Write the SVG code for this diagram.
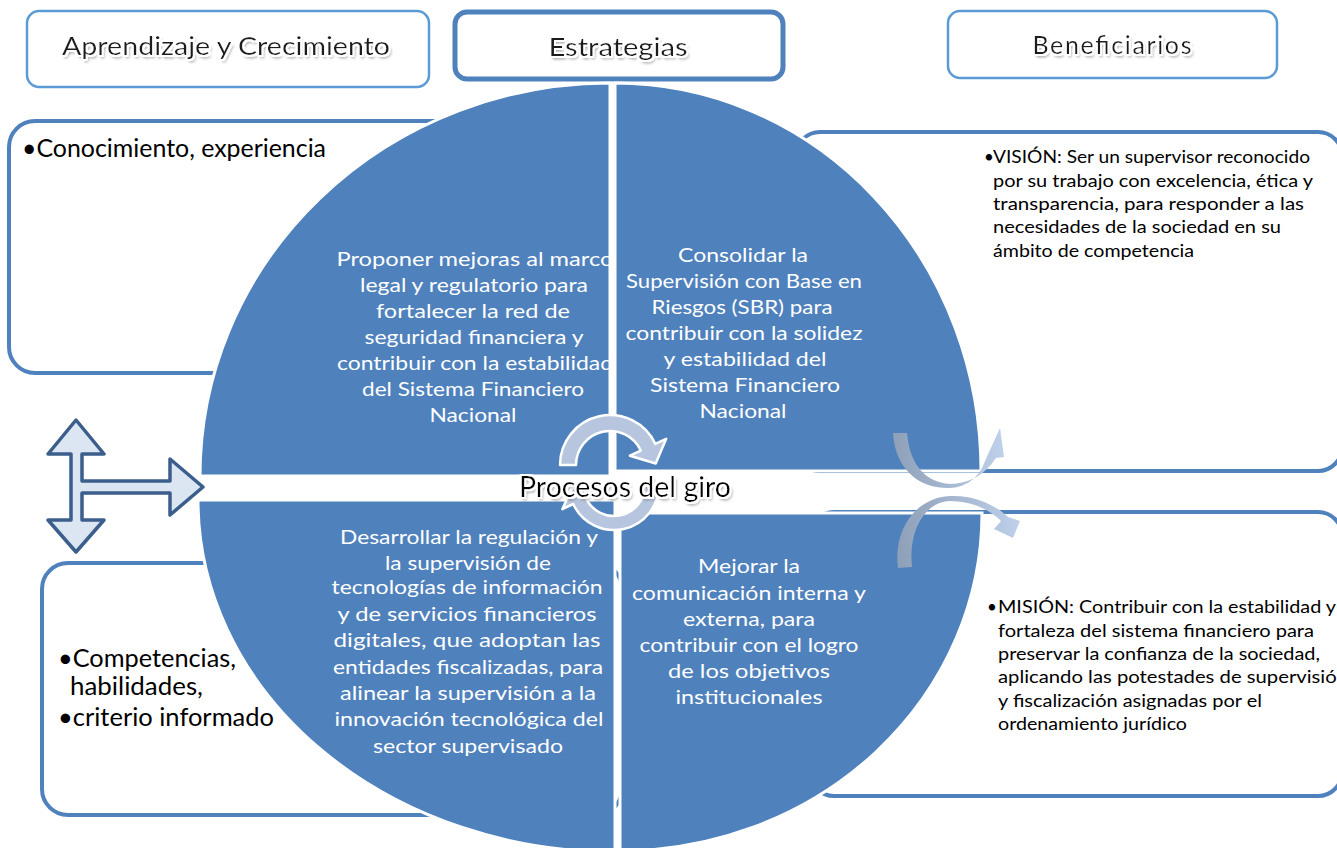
<svg xmlns="http://www.w3.org/2000/svg" width="1337" height="848" viewBox="0 0 1337 848">
<style>
.hdr{fill:#fff;stroke:#5b9bd5;stroke-width:2.5}
.hdr2{fill:#fff;stroke:#4f81bd;stroke-width:5}
.box{fill:#fff;stroke:#4f81bd;stroke-width:4}
.quad{fill:#4f81bd;stroke:#fff;stroke-width:3}
.ht{font-family:Lato,"Open Sans",sans-serif;font-size:25px;fill:#1a1a1a;text-anchor:middle}
.qt{font-family:Lato,"Open Sans",sans-serif;font-size:19px;fill:#fff;text-anchor:middle}
.lt{font-family:Lato,"Open Sans",sans-serif;font-size:25px;fill:#000}
.rt{font-family:Lato,"Open Sans",sans-serif;font-size:17px;fill:#000}
.pt{font-family:Lato,"Open Sans",sans-serif;font-size:28px;fill:#000;text-anchor:middle}
.cyc{fill:#b7c6de;stroke:#fff;stroke-width:2.5;stroke-linejoin:round}
</style>
<defs>
<filter id="shadow" x="-10%" y="-40%" width="125%" height="180%">
<feGaussianBlur in="SourceAlpha" stdDeviation="1.4" result="b"/>
<feOffset in="b" dx="2" dy="2.5" result="o"/>
<feFlood flood-color="#6f6f6f" flood-opacity="0.85"/>
<feComposite in2="o" operator="in" result="sh"/>
<feMorphology in="SourceAlpha" operator="dilate" radius="1.6" result="d"/>
<feFlood flood-color="#fff"/>
<feComposite in2="d" operator="in" result="w"/>
<feMerge><feMergeNode in="sh"/><feMergeNode in="w"/><feMergeNode in="SourceGraphic"/></feMerge>
</filter>
<linearGradient id="rib" x1="0" y1="0" x2="1" y2="0">
<stop offset="0" stop-color="#8da0b8"/>
<stop offset="1" stop-color="#bfd1ea"/>
</linearGradient>
</defs>
<rect width="1337" height="848" fill="#fff"/>

<g id="hdr-aprendizaje">
<rect class="hdr" x="27" y="11" width="402" height="76" rx="12"/>
<text class="ht" x="226" y="55" textLength="328" lengthAdjust="spacingAndGlyphs" filter="url(#shadow)">Aprendizaje y Crecimiento</text>
</g>
<g id="hdr-estrategias">
<rect class="hdr2" x="455" y="12" width="328" height="67" rx="12"/>
<text class="ht" x="618" y="56" textLength="139" lengthAdjust="spacingAndGlyphs" filter="url(#shadow)">Estrategias</text>
</g>
<g id="hdr-beneficiarios">
<rect class="hdr" x="948" y="11" width="329" height="67" rx="12"/>
<text class="ht" x="1112" y="54" textLength="159" lengthAdjust="spacing" filter="url(#shadow)">Beneficiarios</text>
</g>

<g id="box-conocimiento">
<rect class="box" x="9" y="121" width="600" height="252" rx="26"/>
<text class="lt" x="22" y="157" textLength="304" lengthAdjust="spacingAndGlyphs">•Conocimiento, experiencia</text>
</g>
<g id="box-competencias">
<rect class="box" x="42" y="563" width="580" height="252" rx="26"/>
<text class="lt" x="58" y="667" textLength="178" lengthAdjust="spacingAndGlyphs">•Competencias,</text>
<text class="lt" x="70" y="695" textLength="133" lengthAdjust="spacingAndGlyphs">habilidades,</text>
<text class="lt" x="58" y="726" textLength="216" lengthAdjust="spacingAndGlyphs">•criterio informado</text>
</g>
<g id="box-vision">
<rect class="box" x="796" y="132" width="546" height="339" rx="24"/>
<text class="rt" x="984" y="163">•</text>
<text class="rt" x="993" y="163" textLength="317" lengthAdjust="spacingAndGlyphs">VISIÓN: Ser un supervisor reconocido</text>
<text class="rt" x="993" y="187" textLength="320" lengthAdjust="spacingAndGlyphs">por su trabajo con excelencia, ética y</text>
<text class="rt" x="993" y="210" textLength="311" lengthAdjust="spacingAndGlyphs">transparencia,  para responder  a las</text>
<text class="rt" x="993" y="233" textLength="288" lengthAdjust="spacingAndGlyphs">necesidades de la sociedad en su</text>
<text class="rt" x="993" y="257" textLength="201" lengthAdjust="spacingAndGlyphs">ámbito de competencia</text>
</g>
<g id="box-mision">
<rect class="box" x="810" y="512" width="532" height="284" rx="24"/>
<text class="rt" x="987" y="613">•</text>
<text class="rt" x="998" y="613" textLength="338" lengthAdjust="spacingAndGlyphs">MISIÓN: Contribuir con la estabilidad y</text>
<text class="rt" x="998" y="637" textLength="316" lengthAdjust="spacingAndGlyphs">fortaleza del sistema financiero para</text>
<text class="rt" x="998" y="660" textLength="322" lengthAdjust="spacingAndGlyphs">preservar la confianza de la sociedad,</text>
<text class="rt" x="998" y="683" textLength="350" lengthAdjust="spacingAndGlyphs">aplicando las potestades de supervisión</text>
<text class="rt" x="998" y="707" textLength="264" lengthAdjust="spacingAndGlyphs">y fiscalización asignadas por el</text>
<text class="rt" x="998" y="730" textLength="189" lengthAdjust="spacingAndGlyphs">ordenamiento jurídico</text>
</g>

<g id="quad-tl">
<path class="quad" d="M610 476 L200 476 A410 393 0 0 1 610 83 Z"/>
<text class="qt" x="475" y="266" textLength="277" lengthAdjust="spacingAndGlyphs">Proponer mejoras al marco</text>
<text class="qt" x="474" y="292" textLength="228" lengthAdjust="spacingAndGlyphs">legal y regulatorio para</text>
<text class="qt" x="473" y="318" textLength="194" lengthAdjust="spacingAndGlyphs">fortalecer la red de</text>
<text class="qt" x="474" y="344" textLength="219" lengthAdjust="spacingAndGlyphs">seguridad financiera y</text>
<text class="qt" x="475" y="370" textLength="276" lengthAdjust="spacingAndGlyphs">contribuir con la estabilidad</text>
<text class="qt" x="473" y="396" textLength="222" lengthAdjust="spacingAndGlyphs">del Sistema Financiero</text>
<text class="qt" x="473" y="422" textLength="87" lengthAdjust="spacingAndGlyphs">Nacional</text>
</g>
<g id="quad-tr">
<path class="quad" d="M615 471 L615 83 A366 388 0 0 1 981 471 Z"/>
<text class="qt" x="743" y="262" textLength="130" lengthAdjust="spacingAndGlyphs">Consolidar la</text>
<text class="qt" x="744" y="288" textLength="236" lengthAdjust="spacingAndGlyphs">Supervisión con Base en</text>
<text class="qt" x="742" y="314" textLength="181" lengthAdjust="spacingAndGlyphs">Riesgos (SBR) para</text>
<text class="qt" x="744" y="340" textLength="237" lengthAdjust="spacingAndGlyphs">contribuir con la solidez</text>
<text class="qt" x="745" y="366" textLength="163" lengthAdjust="spacingAndGlyphs">y estabilidad del</text>
<text class="qt" x="745" y="392" textLength="190" lengthAdjust="spacingAndGlyphs">Sistema Financiero</text>
<text class="qt" x="743" y="418" textLength="87" lengthAdjust="spacingAndGlyphs">Nacional</text>
</g>
<g id="quad-bl">
<path class="quad" d="M615 500 L615 852 A417 352 0 0 1 198 500 Z"/>
<text class="qt" x="469" y="544" textLength="258" lengthAdjust="spacingAndGlyphs">Desarrollar la regulación y</text>
<text class="qt" x="468" y="570" textLength="166" lengthAdjust="spacingAndGlyphs">la supervisión de</text>
<text class="qt" x="467" y="594" textLength="271" lengthAdjust="spacingAndGlyphs">tecnologías de información</text>
<text class="qt" x="467" y="621" textLength="259" lengthAdjust="spacingAndGlyphs">y de servicios financieros</text>
<text class="qt" x="467" y="647" textLength="267" lengthAdjust="spacingAndGlyphs">digitales, que adoptan las</text>
<text class="qt" x="468" y="674" textLength="270" lengthAdjust="spacingAndGlyphs">entidades fiscalizadas, para</text>
<text class="qt" x="468" y="700" textLength="256" lengthAdjust="spacingAndGlyphs">alinear la supervisión a la</text>
<text class="qt" x="469" y="726" textLength="269" lengthAdjust="spacingAndGlyphs">innovación tecnológica del</text>
<text class="qt" x="468" y="753" textLength="190" lengthAdjust="spacingAndGlyphs">sector supervisado</text>
</g>
<g id="quad-br">
<path class="quad" d="M620 513 L982 513 A362 338 0 0 1 620 851 Z"/>
<text class="qt" x="749" y="573" textLength="102" lengthAdjust="spacingAndGlyphs">Mejorar la</text>
<text class="qt" x="749" y="600" textLength="234" lengthAdjust="spacingAndGlyphs">comunicación interna y</text>
<text class="qt" x="749" y="626" textLength="132" lengthAdjust="spacingAndGlyphs">externa, para</text>
<text class="qt" x="749" y="652" textLength="219" lengthAdjust="spacingAndGlyphs">contribuir con el logro</text>
<text class="qt" x="749" y="678" textLength="162" lengthAdjust="spacingAndGlyphs">de los objetivos</text>
<text class="qt" x="749" y="704" textLength="147" lengthAdjust="spacingAndGlyphs">institucionales</text>
</g>

<g id="connectors">
<path class="cyc" d="M560 465 A50 50 0 0 1 655.3 443.9 L666.2 438.8 L655.7 463.5 L629.9 455.7 L640.8 450.6 A34 34 0 0 0 576 465 Z"/>
<path class="cyc" d="M659 485 A45 45 0 0 1 573.2 504 L562.4 509.1 L572.8 486.6 L596.8 493 L585.9 498.1 A31 31 0 0 0 645 485 Z"/>
<path fill="url(#rib)" d="M893 433 C895 468 918 489 950 488 C968 487 980 476 985 461 L1000 428 L1004 457 L996 458 C985 475 968 484 950 484 C925 482 910 465 907 433 Z"/>
<path fill="url(#rib)" d="M898 568 C893 530 915 498 950 496 C975 495 995 505 1008 517 L1020 521 L1013 538 L994 529 L1001 521 C990 510 972 501 950 501 C925 502 908 530 912 567 Z"/>
<path fill="#dce6f2" stroke="#3b5e8c" stroke-width="3.5" stroke-linejoin="round" d="M76 420 L104 454 L82 454 L82 481 L170 481 L170 459 L203 487 L170 515 L170 493 L82 493 L82 520 L104 520 L76 552 L48 520 L71 520 L71 454 L48 454 Z"/>
</g>

<g id="procesos">
<text class="pt" x="625" y="497" textLength="212" lengthAdjust="spacingAndGlyphs" filter="url(#shadow)">Procesos del giro</text>
</g>
</svg>
